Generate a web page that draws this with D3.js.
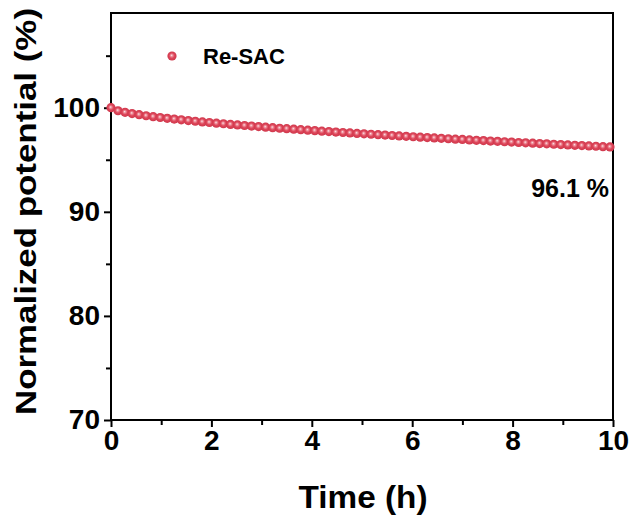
<!DOCTYPE html>
<html><head><meta charset="utf-8">
<script src="https://cdn.jsdelivr.net/npm/d3@7"></script>
<style>body{margin:0;background:#fff}svg{display:block}text{font-family:"Liberation Sans",Arial,sans-serif;font-weight:bold;fill:#000}</style>
</head><body>
<script>
const timeH = [0,0.14,0.28,0.42,0.56,0.70,0.84,0.98,1.12,1.26,1.40,1.54,1.68,1.82,1.96,2.10,2.24,2.38,2.52,2.66,2.80,2.94,3.08,3.22,3.36,3.50,3.64,3.78,3.92,4.06,4.20,4.34,4.48,4.62,4.76,4.90,5.04,5.18,5.32,5.46,5.60,5.74,5.88,6.02,6.16,6.30,6.44,6.58,6.72,6.86,7.00,7.14,7.28,7.42,7.56,7.70,7.84,7.98,8.12,8.26,8.40,8.54,8.68,8.82,8.96,9.10,9.24,9.38,9.52,9.66,9.80,9.94];
const potential = [100,99.71,99.56,99.44,99.33,99.23,99.14,99.06,98.98,98.91,98.84,98.77,98.70,98.64,98.58,98.52,98.46,98.40,98.35,98.29,98.24,98.19,98.13,98.08,98.03,97.99,97.94,97.89,97.84,97.80,97.75,97.71,97.66,97.62,97.58,97.53,97.49,97.45,97.41,97.37,97.33,97.29,97.25,97.21,97.17,97.13,97.10,97.06,97.02,96.98,96.95,96.91,96.87,96.84,96.80,96.77,96.73,96.70,96.66,96.63,96.59,96.56,96.53,96.49,96.46,96.43,96.39,96.36,96.33,96.30,96.26,96.23];
const seriesName = "Re-SAC";
const xTicks = [0,2,4,6,8,10];
const xMinor = [1,3,5,7,9];
const yTicks = [70,80,90,100];
const yMinor = [75,85,95,105];
const retentionLabel = "96.1 %";
const xTitle = "Time (h)";
const yTitle = "Normalized potential (%)";

const W = 635, H = 515;
const m = {left:111, right:22, top:13, bottom:95};
const iw = W - m.left - m.right, ih = H - m.top - m.bottom;

const svg = d3.select("body").append("svg").attr("width", W).attr("height", H);
const defs = svg.append("defs");
const grad = defs.append("radialGradient").attr("id","ball").attr("cx","50%").attr("cy","50%").attr("r","50%").attr("fx","45%").attr("fy","42%");
grad.append("stop").attr("offset","0%").attr("stop-color","#fce9ec");
grad.append("stop").attr("offset","22%").attr("stop-color","#ef97a2");
grad.append("stop").attr("offset","55%").attr("stop-color","#de475b");
grad.append("stop").attr("offset","100%").attr("stop-color","#cf374b");

const g = svg.append("g").attr("transform", `translate(${m.left},${m.top})`);
const x = d3.scaleLinear().domain([0,10]).range([0, iw]);
const y = d3.scaleLinear().domain([70,109.1]).range([ih, 0]);

// minor ticks
const xMinorAxis = d3.axisBottom(x).tickValues(xMinor).tickSize(5).tickFormat("");
const yMinorAxis = d3.axisLeft(y).tickValues(yMinor).tickSize(5).tickFormat("");
g.append("g").attr("transform",`translate(0,${ih})`).call(xMinorAxis).call(s=>s.select(".domain").remove()).selectAll("line").attr("stroke-width",2);
g.append("g").call(yMinorAxis).call(s=>s.select(".domain").remove()).selectAll("line").attr("stroke-width",2);

const xAxis = d3.axisBottom(x).tickValues(xTicks).tickSize(7).tickPadding(3).tickFormat(d3.format("d"));
const yAxis = d3.axisLeft(y).tickValues(yTicks).tickSize(7).tickPadding(4).tickFormat(d3.format("d"));
const gx = g.append("g").attr("transform",`translate(0,${ih})`).call(xAxis);
const gy = g.append("g").call(yAxis);
[gx,gy].forEach(a=>{
  a.select(".domain").remove();
  a.selectAll("line").attr("stroke-width",2);
  a.selectAll("text").style("font-size","28px").style("font-family","'Liberation Sans',Arial,sans-serif").style("font-weight","bold").attr("fill","#000");
});

// frame
g.append("rect").attr("x",0).attr("y",0).attr("width",iw).attr("height",ih).attr("fill","none").attr("stroke","#000").attr("stroke-width",2);

// data
g.append("g").selectAll("circle").data(timeH.map((t,i)=>({t, v:potential[i]}))).join("circle")
  .attr("cx", d=>x(d.t)).attr("cy", d=>y(d.v)).attr("r",4.6).attr("fill","url(#ball)");

// legend
g.append("circle").attr("cx",61).attr("cy",43).attr("r",4.6).attr("fill","url(#ball)");
g.append("text").attr("x",92).attr("y",51).style("font-size","22px").text(seriesName);

// annotation
g.append("text").attr("x", x(10)-4).attr("y",184).attr("text-anchor","end").style("font-size","25px").text(retentionLabel);

// titles
svg.append("text").attr("x", m.left + iw/2 + 1).attr("y", 508).attr("text-anchor","middle").style("font-size","32px")
  .attr("textLength",129).attr("lengthAdjust","spacingAndGlyphs").text(xTitle);
svg.append("text").attr("transform", `translate(36,211.5) rotate(-90)`).attr("text-anchor","middle").style("font-size","29px")
  .attr("textLength",407).attr("lengthAdjust","spacingAndGlyphs").text(yTitle);
</script>
</body></html>
